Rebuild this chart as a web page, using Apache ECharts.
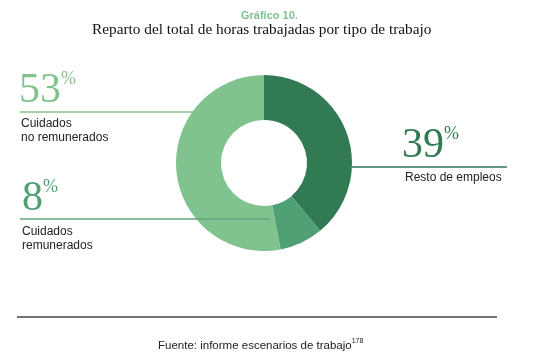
<!DOCTYPE html>
<html><head><meta charset="utf-8">
<script src="https://cdn.jsdelivr.net/npm/echarts@6/dist/echarts.min.js"></script>
<style>html,body{margin:0;padding:0;background:#fff}#c{width:537px;height:355px}</style>
</head><body><div id="c"></div>
<script>
const categories = ['Resto de empleos', 'Cuidados remunerados', 'Cuidados no remunerados'];
const values = [39, 8, 53];
const colors = ['#317a53', '#50a075', '#80c38e'];
const labelLines = [['Resto de empleos'], ['Cuidados', 'remunerados'], ['Cuidados', 'no remunerados']];

const chart = echarts.init(document.getElementById('c'), null, {renderer: 'canvas'});
const serif = '"Liberation Serif","DejaVu Serif",serif';
const sans = '"Liberation Sans","Noto Sans",Arial,sans-serif';

function pctText(i, x, y) {
  return {
    type: 'text', left: x, top: y, z: 10,
    style: {
      text: '{n|' + values[i] + '}{p|%}',
      rich: {
        n: {fontFamily: serif, fontSize: 42, fill: colors[i], verticalAlign: 'bottom', lineHeight: 42},
        p: {fontFamily: serif, fontSize: 18, fill: colors[i], verticalAlign: 'top', lineHeight: 42, padding: [0, 0, 20, 0]}
      }
    }
  };
}
function lbl(i, x, y) {
  return {type: 'text', left: x, top: y, z: 10,
    style: {text: labelLines[i].join('\n'), fontFamily: sans, fontSize: 12, lineHeight: 14, fill: '#222'}};
}
function hline(x1, x2, y, color, z) {
  return {type: 'line', z: z || 10, shape: {x1: x1, y1: y, x2: x2, y2: y}, style: {stroke: color, lineWidth: 1.5}};
}

chart.setOption({
  animation: false,
  title: [
    {text: 'Gráfico 10.', left: 236, top: 5, textStyle: {fontFamily: sans, fontSize: 11, fontWeight: 'bold', color: '#7cc28e'}},
    {text: 'Reparto del total de horas trabajadas por tipo de trabajo', left: 87, top: 17, textStyle: {fontFamily: serif, fontSize: 15.3, fontWeight: 'normal', color: '#111'}},
    {text: 'Fuente: informe escenarios de trabajo{s|178}', left: 153, top: 333, textStyle: {fontFamily: sans, fontSize: 11.5, fontWeight: 'normal', color: '#222', rich: {s: {fontSize: 7, verticalAlign: 'top', padding: [0, 0, 8, 0], fontFamily: sans, color: '#222'}}}}
  ],
  series: [{
    type: 'pie',
    center: [264, 163],
    radius: [43, 88],
    startAngle: 90,
    clockwise: true,
    label: {show: false},
    labelLine: {show: false},
    itemStyle: {borderWidth: 0},
    emphasis: {disabled: true},
    data: categories.map((c, i) => ({name: c, value: values[i], itemStyle: {color: colors[i]}}))
  }],
  graphic: [
    pctText(2, 19, 70),
    hline(20, 194, 112, '#80c38e'),
    lbl(2, 21, 117),
    pctText(1, 22, 178),
    hline(20, 270, 219, '#62a97c', 20),
    lbl(1, 22, 225),
    pctText(0, 402, 125),
    hline(352, 507, 167, '#317a53'),
    lbl(0, 405, 171),
    hline(17, 497, 317, '#444')
  ]
});
</script></body></html>
